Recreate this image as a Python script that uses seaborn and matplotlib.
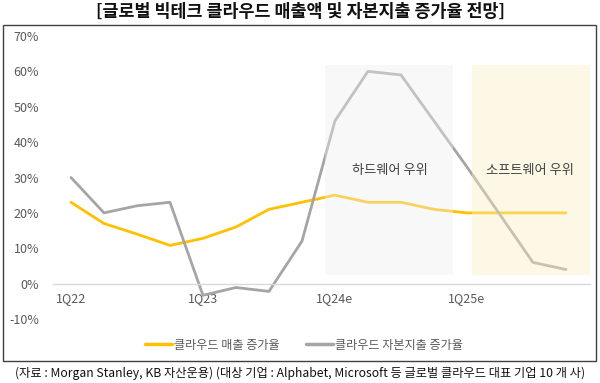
import matplotlib
matplotlib.use('Agg')
import matplotlib.pyplot as plt
from matplotlib.patches import Rectangle
from matplotlib.lines import Line2D
import numpy as np
import pandas as pd
import seaborn as sns

quarters = ['1Q22', '2Q22', '3Q22', '4Q22', '1Q23', '2Q23', '3Q23', '4Q23',
            '1Q24e', '2Q24e', '3Q24e', '4Q24e', '1Q25e', '2Q25e', '3Q25e', '4Q25e']
revenue_growth = [23, 17, 14, 10.8, 12.8, 16, 21, 23, 25, 23, 23, 21, 20, 20, 20, 20]
capex_growth = [30, 20, 22, 23, -3.3, -1.1, -2.2, 12, 46, 60, 59, 46, 33, 19.5, 6, 4]
yticks = [-10, 0, 10, 20, 30, 40, 50, 60, 70]

sns.set_style('white')
plt.rcParams['font.family'] = ['Noto Sans CJK KR', 'DejaVu Sans']

W, H = 600, 383
fig = plt.figure(figsize=(6, 3.83), dpi=100)

def px(x0, y0, x1, y1):
    return [x0 / W, 1 - y1 / H, (x1 - x0) / W, (y1 - y0) / H]

ax = fig.add_axes(px(53, 36, 590, 319))

df = pd.DataFrame({'q': np.arange(len(quarters)),
                   'rev': revenue_growth, 'capex': capex_growth})

sns.lineplot(data=df, x='q', y='rev', ax=ax, color='#FFC000', lw=2.0)
sns.lineplot(data=df, x='q', y='capex', ax=ax, color='#A5A5A5', lw=2.0)

# shaded regions on top
ax.add_patch(Rectangle((7.69, 2.3), 3.89, 59.5, facecolor='#eeeeee', alpha=0.4,
                       edgecolor='none', zorder=5))
ax.add_patch(Rectangle((12.14, 2.3), 3.61, 59.5, facecolor='#fbeec0', alpha=0.4,
                       edgecolor='none', zorder=5))
ax.text(9.65, 32, '하드웨어 우위', ha='center', va='center', fontsize=9.5,
        color='#404040', zorder=6)
ax.text(13.9, 32, '소프트웨어 우위', ha='center', va='center', fontsize=9.5,
        color='#404040', zorder=6)

ax.set_xlim(-0.545, 15.73)
ax.set_ylim(-10, 70)
ax.set_yticks(yticks)
ax.set_yticklabels([f'{v}%' for v in yticks])
ax.set_xticks(df['q'][::4])
ax.set_xticklabels(quarters[::4])
ax.tick_params(axis='both', length=0, labelsize=9, labelcolor='#595959')
ax.tick_params(axis='y', pad=10)
ax.tick_params(axis='x', pad=6)
for s in ['top', 'right', 'left']:
    ax.spines[s].set_visible(False)
ax.spines['bottom'].set_position(('data', 0))
ax.spines['bottom'].set_color('#d9d9d9')
ax.spines['bottom'].set_linewidth(1)
ax.set_xlabel('')
ax.set_ylabel('')
ax.patch.set_alpha(0)

handles = [Line2D([], [], color='#FFC000', lw=2.5),
           Line2D([], [], color='#A5A5A5', lw=2.5)]
fig.legend(handles, ['클라우드 매출 증가율', '클라우드 자본지출 증가율'],
           loc='center', bbox_to_anchor=(304 / W, 1 - 345 / H), ncol=2,
           frameon=False, fontsize=8.7, handlelength=2.2, handletextpad=0.2,
           columnspacing=2.2, labelcolor='#595959')

fig.patches.append(Rectangle((3 / W, 1 - 361 / H), 593 / W, 336 / H,
                             transform=fig.transFigure, fill=False,
                             edgecolor='#404040', lw=1))

fig.text(0.5, 1 - 12 / H, '[글로벌 빅테크 클라우드 매출액 및 자본지출 증가율 전망]',
         ha='center', va='center', fontsize=12.5, fontweight='bold', color='#111111')
fig.text(0.5, 1 - 373 / H,
         '(자료 : Morgan Stanley, KB 자산운용) (대상 기업 : Alphabet, Microsoft 등 글로벌 클라우드 대표 기업 10 개 사)',
         ha='center', va='center', fontsize=8.8, color='#111111')

fig.savefig('out.png', dpi=100)
